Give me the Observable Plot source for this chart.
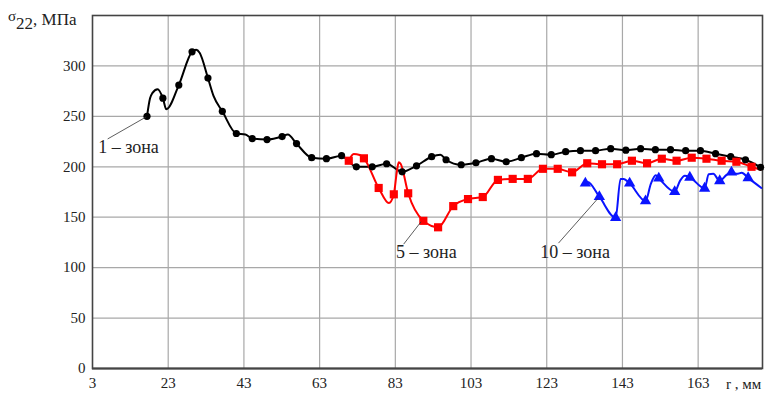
<!DOCTYPE html>
<html><head><meta charset="utf-8">
<script src="https://cdn.jsdelivr.net/npm/d3@7"></script>
<script src="https://cdn.jsdelivr.net/npm/@observablehq/plot@0.6"></script>
<style>body{margin:0;background:#fff}</style>
</head><body><div id="chart"></div>
<script>
// Zone 1 (black): r (mm), sigma22 (MPa), marker flag
const r1 = [17.4,18.2,18.8,20.2,21.6,22.5,25.8,29.3,30.4,31.3,33.5,35.0,37.3,41.0,43.4,45.2,49.1,53.1,54.6,56.9,60.9,64.8,68.8,70.5,72.7,76.9,80.7,84.8,88.6,92.6,94.9,96.4,100.4,104.3,108.4,112.3,116.3,120.3,124.2,128.0,131.9,135.9,139.9,143.9,147.8,151.7,155.7,159.7,163.6,167.6,171.6,175.5,179.5];
const v1 = [250,268,273,277,268,257,281,314,316,313,288,270,255,233,232,228,227,230,232,223,209,208,211,206,200,200,203,195,201,210,212,207,202,204,208,205,209,213,212,215,216,216,218,216.5,218,217,217,216,216,213,210,207,199.5];
const m1 = [1,0,0,0,1,0,1,1,0,0,1,0,1,1,0,1,1,1,0,1,1,1,1,0,1,1,1,1,1,1,0,1,1,1,1,1,1,1,1,1,1,1,1,1,1,1,1,1,1,1,1,1,1];
// Zone 5 (red)
const r5 = [70.7,72.0,73.6,74.7,78.6,81.3,82.6,83.4,83.9,84.4,86.4,90.4,94.3,98.3,102.2,106.1,110.1,114.0,118.0,122.0,125.9,129.7,133.7,137.6,141.6,145.5,149.5,153.4,157.3,161.3,165.2,169.2,173.1,177.1,179.5];
const v5 = [206,212.7,211.7,208.4,179,164,172.7,195,204.5,203,173.7,146.4,140,161,168,170,187,188,188,198,198,194.5,203.5,202.5,202.5,206,203.5,208,206,209,208,206,205,200,197];
const m5 = [1,0,0,1,1,0,1,0,0,0,1,1,1,1,1,1,1,1,1,1,1,1,1,1,1,1,1,1,1,1,1,1,1,1,0];
// Zone 10 (blue)
const r10 = [133.2,133.8,136.9,141.2,142.5,143.3,144.9,149.1,150.5,151.8,152.6,156.8,158.2,159.5,160.8,164.7,165.8,167.0,168.7,170.5,171.8,173.2,174.5,176.2,179.7];
const v10 = [183.6,185,170.3,149.4,188,188,183.6,166,183,191.5,188.6,175.3,186,191,189.5,178.6,192.5,193,186,192,194.5,193,194,189,179];
const m10 = [1,0,1,1,0,0,1,1,0,0,1,1,0,0,1,1,0,0,1,0,1,0,0,1,0];

// Annotations: label, label position, leader start and end (data units)
const annLabels = ["1 – зона","5 – зона","10 – зона"];
const annTextR = [12.5,91.2,130.5];
const annTextV = [219.7,114.8,114.8];
const annFromR = [7.0,85.2,126.1];
const annFromV = [227.6,123.3,124.3];
const annToR = [17.2,89.8,136.5];
const annToV = [249.5,145.5,168.5];

const xTicks = [3,23,43,63,83,103,123,143,163];
const yTicks = [0,50,100,150,200,250,300];
const xGrid = [23,43,63,83,103,123,143,163];
const yGrid = [50,100,150,200,250,300];

const mk = (r, v, m) => r.map((x, i) => ({r: x, v: v[i], m: m[i]}));
const d1 = mk(r1, v1, m1), d5 = mk(r5, v5, m5), d10 = mk(r10, v10, m10);
const ann = annLabels.map((t, i) => ({t, tx: annTextR[i], ty: annTextV[i], x1: annFromR[i], y1: annFromV[i], x2: annToR[i], y2: annToV[i]}));

const serif = "'Liberation Serif', 'DejaVu Serif'";
const chart = Plot.plot({
  width: 772, height: 402,
  marginLeft: 92, marginRight: 10, marginTop: 15, marginBottom: 34,
  style: {fontSize: "14px", color: "#222", background: "#fff", overflow: "visible"},
  x: {domain: [3, 180]},
  y: {domain: [0, 350]},
  marks: [
    Plot.gridX(xGrid, {stroke: "#a8a8a8", strokeOpacity: 1, strokeWidth: 1.2}),
    Plot.gridY(yGrid, {stroke: "#a8a8a8", strokeOpacity: 1, strokeWidth: 1.2}),
    Plot.frame({stroke: "#444", strokeWidth: 1.6}),
    Plot.ruleY([0], {stroke: "#444", strokeWidth: 2.2}),
    Plot.axisX(xTicks, {tickSize: 0, tickPadding: 9, label: null, fontSize: 15}),
    Plot.axisY(yTicks, {tickSize: 0, tickPadding: 7, label: null, fontSize: 15}),
    Plot.line(d1, {x: "r", y: "v", stroke: "#000", strokeWidth: 2, curve: "monotone-x"}),
    Plot.line(d5, {x: "r", y: "v", stroke: "#ff0000", strokeWidth: 2, curve: "monotone-x"}),
    Plot.line(d10, {x: "r", y: "v", stroke: "#0a14ff", strokeWidth: 2, curve: "monotone-x"}),
    Plot.dot(d1.filter(d => d.m), {x: "r", y: "v", r: 3.6, fill: "#000", symbol: "circle"}),
    Plot.dot(d5.filter(d => d.m), {x: "r", y: "v", r: 4.6, fill: "#ff0000", symbol: "square"}),
    Plot.dot(d10.filter(d => d.m), {x: "r", y: "v", r: 4.2, fill: "#0a14ff", symbol: "triangle"}),
    Plot.link(ann, {x1: "x1", y1: "y1", x2: "x2", y2: "y2", stroke: "#333", strokeWidth: 0.8}),
    Plot.text(ann, {x: "tx", y: "ty", text: "t", fontSize: 18, fill: "#222"})
  ]
});
document.getElementById("chart").append(chart);

const svg = d3.select(chart);
const yl = svg.append("text").attr("x", 8).attr("y", 24).attr("text-anchor", "start").attr("fill", "#222");
yl.append("tspan").attr("font-size", 15).attr("dy", -3).text("σ");
yl.append("tspan").attr("font-size", 17).attr("dy", 8).text("22");
yl.append("tspan").attr("font-size", 17).attr("dy", -4).text(", МПа");
svg.append("text").attr("x", 726).attr("y", 389).attr("text-anchor", "start").attr("font-size", 15).attr("fill", "#222").text("r , мм");
svg.style("font-family", serif);
svg.selectAll("text").attr("font-family", serif).style("font-family", serif);
</script>
</body></html>
